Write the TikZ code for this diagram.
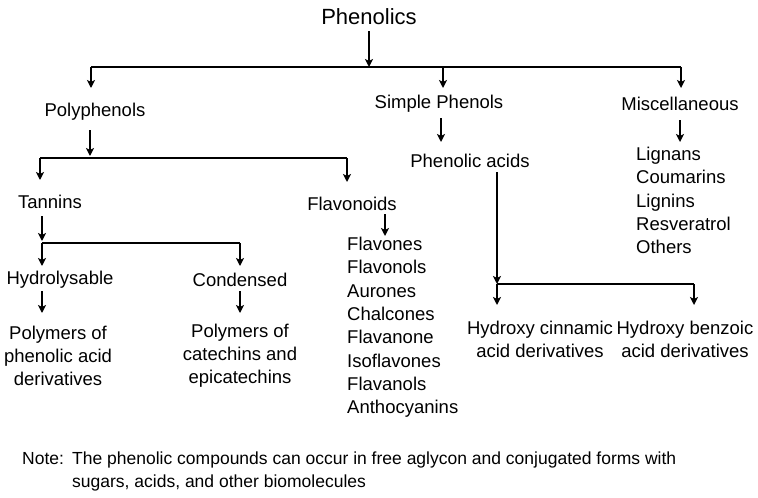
\documentclass[tikz,border=0pt]{standalone}
\usepackage{fontspec}
\setmainfont{Liberation Sans}
\usetikzlibrary{arrows.meta}
\begin{document}
\begin{tikzpicture}[x=1pt,y=-1pt,
  lbl/.style={font=\fontsize{18.5}{23}\selectfont, inner sep=0pt, align=center},
  lst/.style={font=\fontsize{18.5}{23.3}\selectfont, inner sep=0pt, align=left, anchor=north west},
  ln/.style={line width=1.6pt},
  ar/.style={line width=1.6pt,-{Stealth[length=8pt,width=8pt,inset=2pt]}}]
\useasboundingbox (0,0) rectangle (758,498);
\node[lbl,font=\fontsize{22}{25}\selectfont] (phen) at (369,17) {Phenolics};
\node[lbl] (poly) at (95,112) {Polyphenols};
\node[lbl] (simp) at (439,104) {Simple Phenols};
\node[lbl] (misc) at (680,104) {Miscellaneous};
\node[lbl] (tann) at (50,202) {Tannins};
\node[lbl] (flav) at (352,204) {Flavonoids};
\node[lbl] (hydr) at (60,280) {Hydrolysable};
\node[lbl] (cond) at (240,280) {Condensed};
\node[lbl] (php) at (58,356) {Polymers of\\phenolic acid\\derivatives};
\node[lbl] (cat) at (240,356) {Polymers of\\catechins and\\epicatechins};
\node[lst] (flist) at (347,237) {Flavones\\Flavonols\\Aurones\\Chalcones\\Flavanone\\Isoflavones\\Flavanols\\Anthocyanins};
\node[lbl] (pacid) at (470,161) {Phenolic acids};
\node[lbl] (hca) at (540,339) {Hydroxy cinnamic\\acid derivatives};
\node[lbl] (hba) at (685,339) {Hydroxy benzoic\\acid derivatives};
\node[lst] (mlist) at (636,147) {Lignans\\Coumarins\\Lignins\\Resveratrol\\Others};
\node[font=\fontsize{17.5}{23}\selectfont, inner sep=0pt, anchor=north west] (nlab) at (22,452) {Note:};
\node[font=\fontsize{17.5}{23}\selectfont, inner sep=0pt, anchor=north west, align=left] (note) at (72,452) {The phenolic compounds can occur in free aglycon and conjugated forms with\\sugars, acids, and other biomolecules};
% level 1
\coordinate (j1) at (369,67);
\draw[ar] (phen.south) ++(0,6) coordinate (p0) -- (p0 |- j1);
\draw[ln] (91,67) coordinate (l1a) -- (681,67) coordinate (l1b);
\draw[ar] (l1a) -- (91,88);
\draw[ar] (443,67) -- (443,88);
\draw[ar] (l1b) -- (681,88);
% polyphenols
\draw[ar] (90,130) -- (90,156);
\draw[ln] (40,158) coordinate (l2a) -- (347,158) coordinate (l2b);
\draw[ar] (l2a) -- (40,180);
\draw[ar] (l2b) -- (347,182);
% tannins
\draw[ar] (42,216) -- (42,241);
\draw[ln] (42,243) coordinate (l3a) -- (240,243) coordinate (l3b);
\draw[ar] (l3a) -- (42,266);
\draw[ar] (l3b) -- (240,266);
\draw[ar] (42,291) -- (42,313);
\draw[ar] (240,291) -- (240,313);
% flavonoids
\draw[ar] (385,214) -- (385,236);
% simple phenols
\draw[ar] (441,118) -- (441,142);
\draw[ar] (497,172) -- (497,284);
\draw[ln] (497,284) coordinate (l4a) -- (694,284) coordinate (l4b);
\draw[ar] (l4a) -- (497,305);
\draw[ar] (l4b) -- (694,305);
% misc
\draw[ar] (680,120) -- (680,142);
\end{tikzpicture}
\end{document}
